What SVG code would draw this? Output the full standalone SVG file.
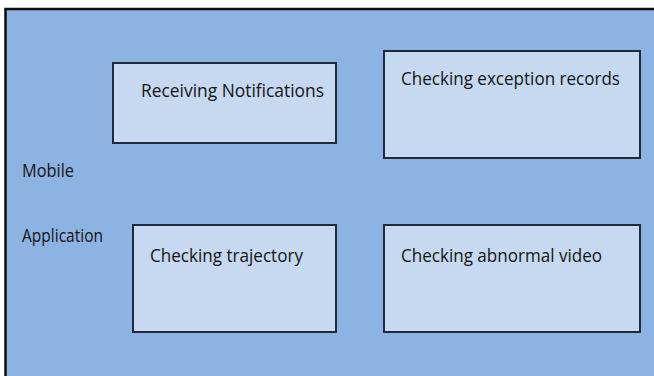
<svg xmlns="http://www.w3.org/2000/svg" width="654" height="376" viewBox="0 0 654 376">
  <style>
    .panel { fill: #8DB3E2; stroke: #0d0d0d; stroke-width: 2.5; }
    .box { fill: #C6D9F1; stroke: #1f2a38; stroke-width: 2; }
    .label { font-family: "Open Sans", "Liberation Sans", sans-serif; font-size: 18px; fill: #151515; }
  </style>
  <rect width="654" height="376" fill="#ffffff"/>
  <!-- background panel -->
  <rect class="panel" x="5.5" y="9" width="660" height="380"/>
  <g id="side-label">
    <text class="label" x="22" y="177" textLength="52" lengthAdjust="spacingAndGlyphs">Mobile</text>
    <text class="label" x="22" y="242" textLength="81" lengthAdjust="spacingAndGlyphs">Application</text>
  </g>
  <g id="receiving-notifications">
    <rect class="box" x="113" y="63" width="223" height="80"/>
    <text class="label" x="141" y="97" textLength="183" lengthAdjust="spacingAndGlyphs">Receiving Notifications</text>
  </g>
  <g id="checking-exception-records">
    <rect class="box" x="384" y="51" width="256" height="107"/>
    <text class="label" x="401" y="85" textLength="219" lengthAdjust="spacingAndGlyphs">Checking exception records</text>
  </g>
  <g id="checking-trajectory">
    <rect class="box" x="133" y="225" width="203" height="107"/>
    <text class="label" x="150" y="262" textLength="153" lengthAdjust="spacingAndGlyphs">Checking trajectory</text>
  </g>
  <g id="checking-abnormal-video">
    <rect class="box" x="384" y="225" width="256" height="107"/>
    <text class="label" x="401" y="262" textLength="201" lengthAdjust="spacingAndGlyphs">Checking abnormal video</text>
  </g>
  <g id="connectors"/>
</svg>
